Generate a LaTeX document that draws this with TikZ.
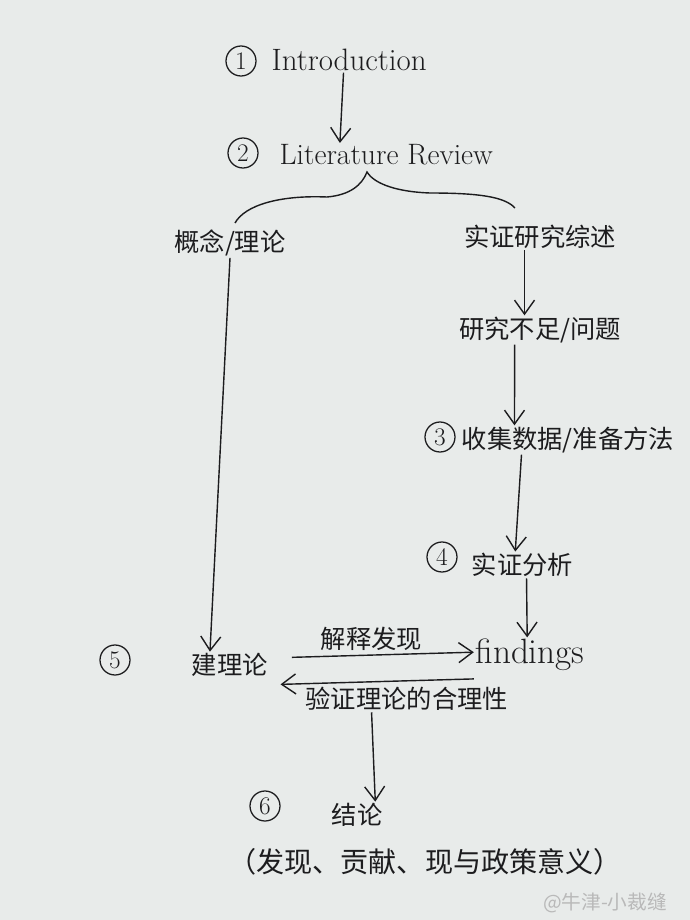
\documentclass[tikz,border=0pt]{standalone}
\usepackage{fontspec}
\newfontfamily\cjk{Noto Sans CJK SC}
\usetikzlibrary{arrows.meta}
\definecolor{paper}{RGB}{232,235,234}
\definecolor{ink}{RGB}{28,28,30}
\tikzset{
  num/.style={draw=ink, circle, line width=0.9pt, minimum size=0.75cm, inner sep=0pt, font=\fontsize{18}{20}\selectfont},
  latin/.style={font=\fontsize{21}{24}\selectfont, inner sep=1pt},
  zh/.style={font=\cjk\fontsize{18}{20}\selectfont, inner sep=1pt},
  pen/.style={draw=ink, line width=1pt},
}
\begin{document}
\begin{tikzpicture}[x=0.025cm, y=-0.025cm, >={Straight Barb[length=3.5mm,width=5mm]}, text=ink]
    % the sheet of paper
    \fill[paper] (0,0) rectangle (690,920);

    % We start by placing the blocks
    \node[num] (c1) at (241,61) {1};
    \node[latin, anchor=west, font=\fontsize{22}{24}\selectfont] (intro) at (270,60) {Introduction};
    \node[num] (c2) at (243,153) {2};
    \node[latin, anchor=west] (lit) at (278,155) {Literature Review};

    \node[zh] (concept) at (230,243) {概念/理论};
    \node[zh] (empirical) at (540,237) {实证研究综述};
    \node[zh] (gap) at (540,330) {研究不足/问题};

    \node[num] (c3) at (440,437) {3};
    \node[zh, anchor=west] (data) at (460,440) {收集数据/准备方法};
    \node[num] (c4) at (442,557) {4};
    \node[zh, anchor=west] (analysis) at (470,565) {实证分析};
    \node[latin, font=\fontsize{25}{28}\selectfont] (findings) at (530,655) {findings};

    \node[num] (c5) at (115,660) {5};
    \node[zh, anchor=west] (theory) at (190,665) {建理论};

    \node[num] (c6) at (265,806) {6};
    \node[zh] (concl) at (357,815) {结论};
    \node[zh, font=\cjk\fontsize{20}{22}\selectfont] (detail) at (425,862) {（发现、贡献、现与政策意义）};
    \node[font=\cjk\fontsize{14}{16}\selectfont, text=gray!55] (mark) at (605,903) {@牛津-小裁缝};

    % the brace under the literature review
    \draw[pen] (235,223) .. controls (245,205) and (280,195) .. (327,197)
      .. controls (350,195) and (362,185) .. (367,172)
      .. controls (375,185) and (400,192) .. (430,193)
      .. controls (480,193) and (505,197) .. (515,208);

    % then the connectors
    \draw[pen, ->] ([xshift=-4pt]intro.south) to ([xshift=-33pt]lit.north);
    \draw[pen, ->] (concept.south) to ([xshift=-14pt]theory.north);
    \draw[pen, ->] ([xshift=-11pt]empirical.south) to ([xshift=-11pt]gap.north);
    \draw[pen, ->] ([xshift=-18pt]gap.south) to ([xshift=-38pt]data.north);
    \draw[pen, ->] ([xshift=-33pt]data.south) to ([xshift=-5pt]analysis.north);
    \draw[pen, ->] ([xshift=3pt]analysis.south) to ([xshift=-2pt]findings.north);

    \draw[pen, ->, shorten <=16pt] ([yshift=5pt]theory.east) to
      node[zh, above=2pt] (explain) {解释发现} ([yshift=2pt]findings.west);
    \draw[pen, ->, shorten >=8pt] ([yshift=-17pt]findings.west) to
      node[zh, below=2pt, xshift=25pt] (verify) {验证理论的合理性} ([yshift=-14pt]theory.east);
    \draw[pen, ->] ([xshift=-25pt]verify.south) to ([xshift=13pt]concl.north);
\end{tikzpicture}
\end{document}
